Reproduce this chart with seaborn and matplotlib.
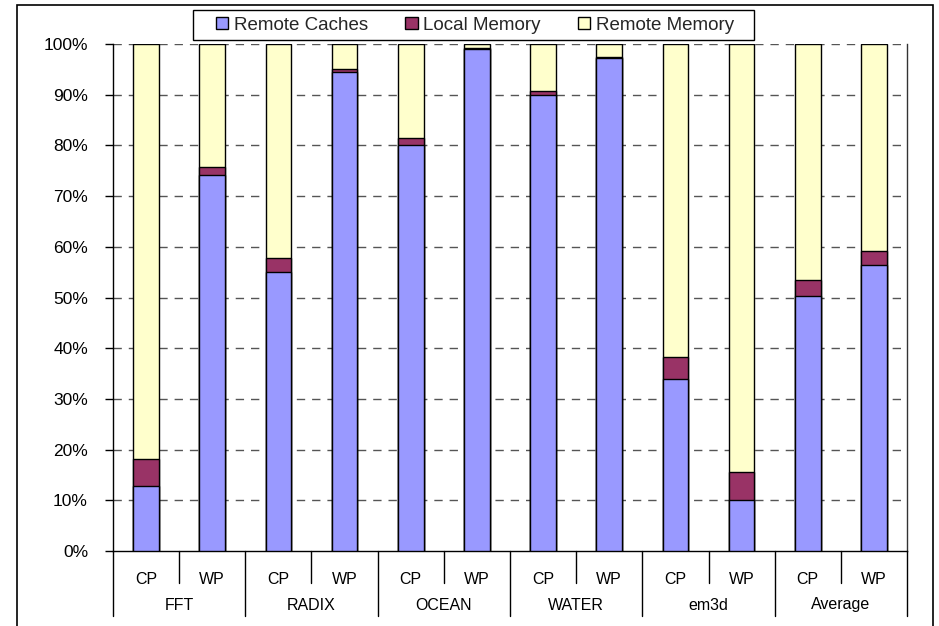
import matplotlib
matplotlib.use("Agg")
import matplotlib.pyplot as plt
import matplotlib.transforms as mtransforms
from matplotlib.patches import Patch, Rectangle
import numpy as np
import pandas as pd
import seaborn as sns

# Benchmarks and the two schemes compared for each
benchmarks = ["FFT", "RADIX", "OCEAN", "WATER", "em3d", "Average"]
schemes = ["CP", "WP"]

# Share of misses served by each source (%), ordered FFT-CP, FFT-WP, RADIX-CP, ...
remote_caches = [12.8, 74.2, 55.0, 94.5, 80.1, 99.1, 90.0, 97.2, 34.0, 10.0, 50.3, 56.4]
local_memory = [5.4, 1.5, 2.8, 0.5, 1.4, 0.2, 0.8, 0.3, 4.3, 5.6, 3.2, 2.8]
remote_memory = [81.8, 24.3, 42.2, 5.0, 18.5, 0.7, 9.2, 2.5, 61.7, 84.4, 46.5, 40.8]

series_names = ["Remote Caches", "Local Memory", "Remote Memory"]
series_colors = ["#9999FF", "#993366", "#FFFFCC"]

sns.set_theme(style="white")
plt.rcParams["font.family"] = ["Liberation Sans", "DejaVu Sans"]

keys = [f"{b} {s}" for b in benchmarks for s in schemes]
df = pd.DataFrame({
    "key": keys,
    "Remote Caches": remote_caches,
    "Local Memory": local_memory,
    "Remote Memory": remote_memory,
})
# Cumulative heights so each layer is drawn on top of the previous one
df["top_rc"] = df["Remote Caches"]
df["top_lm"] = df["top_rc"] + df["Local Memory"]
df["top_rm"] = df["top_lm"] + df["Remote Memory"]

fig = plt.figure(figsize=(9.39, 6.26), dpi=100)
ax = fig.add_axes([113 / 939, 1 - 551 / 626, (907 - 113) / 939, (551 - 44) / 626])

bar_kw = dict(x="key", order=keys, width=0.39, saturation=1,
              edgecolor="black", linewidth=1.0, ax=ax, zorder=3)
sns.barplot(data=df, y="top_rm", color=series_colors[2], **bar_kw)
sns.barplot(data=df, y="top_lm", color=series_colors[1], **bar_kw)
sns.barplot(data=df, y="top_rc", color=series_colors[0], **bar_kw)

ax.set_xlim(-0.5, len(keys) - 0.5)
ax.set_ylim(0, 100)
ax.set_xlabel("")
ax.set_ylabel("")

# y axis: percentages with dashed gridlines
yt = np.arange(0, 101, 10)
ax.set_yticks(yt)
ax.set_yticklabels([f"{v}%" for v in yt], fontsize=12.5, color="black")
ax.tick_params(axis="y", direction="out", length=6, width=1, color="black", pad=12, left=True)
for v in yt[1:]:
    ax.axhline(v, color="#555555", linewidth=1.0, linestyle=(0, (6, 5)), zorder=1)

# x axis: scheme labels with benchmark labels underneath
ax.set_xticks(range(len(keys)))
ax.set_xticklabels(schemes * len(benchmarks), fontsize=11.5, color="black")
ax.tick_params(axis="x", length=0, pad=15)

ax.spines["top"].set_visible(False)
ax.spines["left"].set_color("black")
ax.spines["left"].set_linewidth(1.0)
ax.spines["bottom"].set_color("black")
ax.spines["bottom"].set_linewidth(1.0)
ax.spines["right"].set_color("#333333")
ax.spines["right"].set_linewidth(1.0)

trans = mtransforms.blended_transform_factory(ax.transData, ax.transAxes)
ax_h = 551 - 44
inner_drop = -(583 - 551) / ax_h
outer_drop = -(616 - 551) / ax_h
for i in range(len(keys) + 1):
    xpos = i - 0.5
    low = outer_drop if i % 2 == 0 else inner_drop
    ax.plot([xpos, xpos], [0, low], transform=trans, color="black",
            linewidth=1.0, clip_on=False, zorder=4)
for j, b in enumerate(benchmarks):
    ax.text(2 * j + 0.5, -(605 - 551) / ax_h, b, transform=trans,
            ha="center", va="center", fontsize=11.5, color="black")

# Legend across the top, inside its own box
handles = [Patch(facecolor=c, edgecolor="black", linewidth=1.0, label=n)
           for n, c in zip(series_names, series_colors)]
fig.patches.append(Rectangle((193 / 939, 1 - 40 / 626), (754 - 193) / 939, 30 / 626,
                             transform=fig.transFigure, facecolor="white",
                             edgecolor="black", linewidth=1.0, zorder=5))
leg = fig.legend(handles=handles, loc="center", bbox_to_anchor=(475 / 939, 1 - 25 / 626),
                 ncol=3, fontsize=13.5, frameon=False,
                 handlelength=0.65, handleheight=0.65, handletextpad=0.3,
                 columnspacing=2.0, borderpad=0.2, borderaxespad=0)
leg.set_zorder(6)

# Outer chart border
fig.patches.append(Rectangle((17 / 939, -0.02), (933 - 17) / 939, 1 - 5 / 626 + 0.02,
                             transform=fig.transFigure, fill=False,
                             edgecolor="black", linewidth=1.2))

fig.savefig("out.png", dpi=100)
